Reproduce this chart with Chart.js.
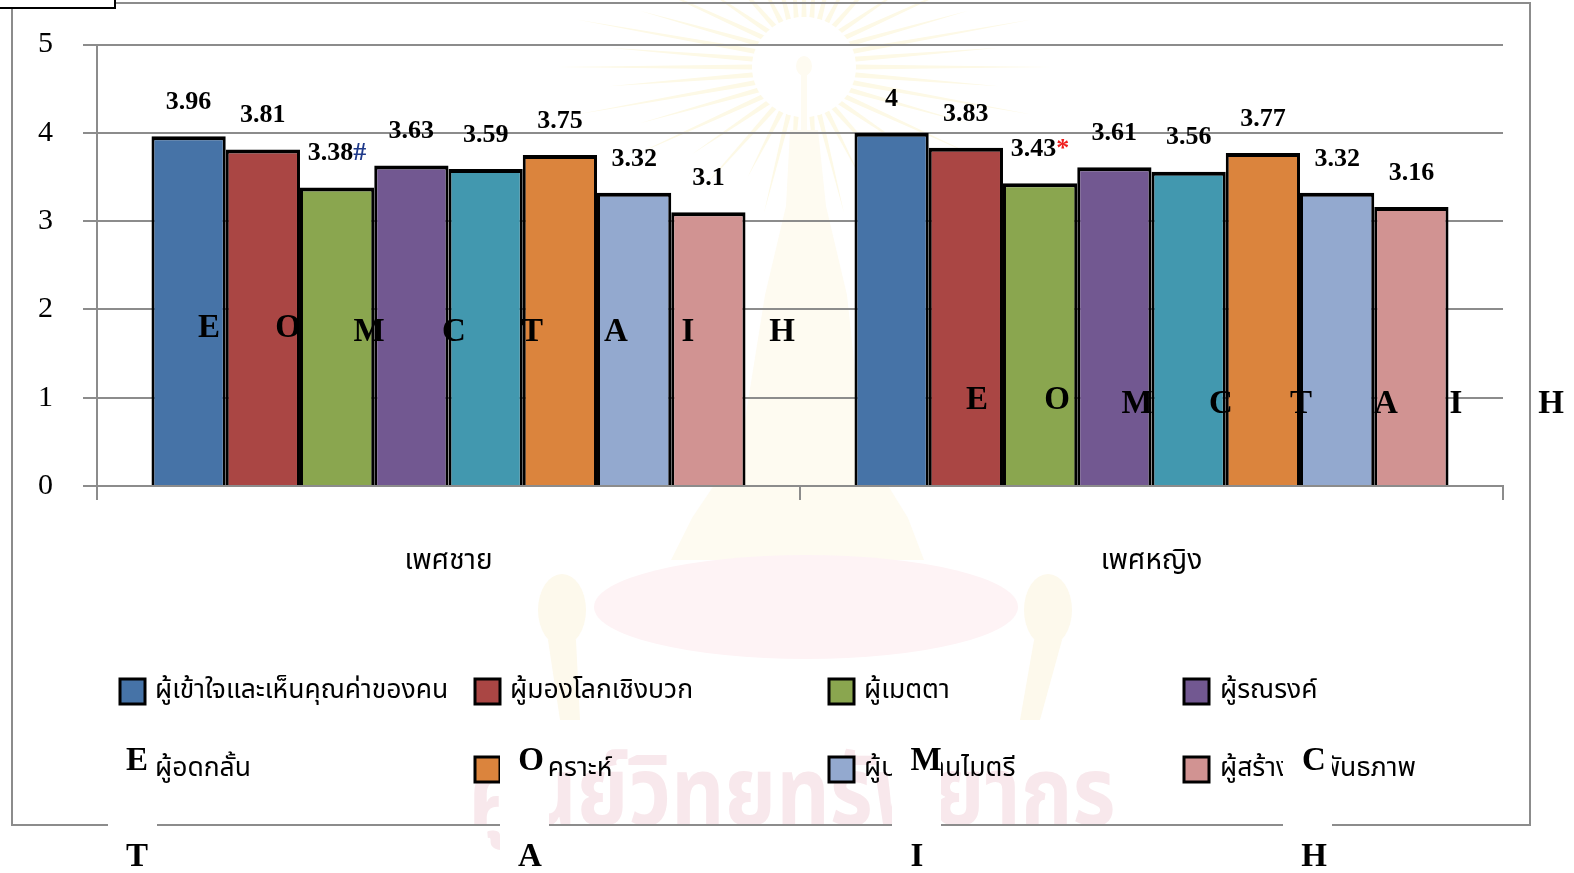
<!DOCTYPE html>
<html><head><meta charset="utf-8">
<style>html,body{margin:0;padding:0;background:#fff}#w{position:relative;width:1574px;height:873px;overflow:hidden}canvas{display:block}</style>
<script src="https://cdn.jsdelivr.net/npm/chart.js@4/dist/chart.umd.min.js"></script>
</head><body><div id="w"><canvas id="c" width="1574" height="873"></canvas></div>
<script>
const categories=["เพศชาย","เพศหญิง"];
const seriesNames=["ผู้เข้าใจและเห็นคุณค่าของคน","ผู้มองโลกเชิงบวก","ผู้เมตตา","ผู้รณรงค์","ผู้อดกลั้น","ผู้วิเคราะห์","ผู้ประสานไมตรี","ผู้สร้างสัมพันธภาพ"];
const seriesColors=["#4673A7","#AA4644","#8AA64F","#725891","#4298AF","#DB843D","#93A9CF","#D19392"];
const male=[3.96,3.81,3.38,3.63,3.59,3.75,3.32,3.1];
const female=[4,3.83,3.43,3.61,3.56,3.77,3.32,3.16];
const labelSuffix={"0-2":["#","#1f3a8a"],"1-2":["*","#f01c1c"]};
const yTicks=[0,1,2,3,4,5];
const serif='"Liberation Serif","Times New Roman",serif';
const thai='"Noto Sans Thai","Noto Sans","DejaVu Sans",sans-serif';

function emblem(c){
 const cx=804,cy=67;
 c.fillStyle='#fdf9e6';
 for(let a=0;a<360;a+=9){const r=a*Math.PI/180,R=(a%18===0?205:165);
  const sx=Math.abs(Math.cos(r))*1+0.45;
  c.beginPath();
  c.moveTo(cx+Math.cos(r-0.05)*50,cy+Math.sin(r-0.05)*50);
  c.lineTo(cx+Math.cos(r)*R*sx/1.2,cy+Math.sin(r)*R*0.75);
  c.lineTo(cx+Math.cos(r+0.05)*50,cy+Math.sin(r+0.05)*50);
  c.closePath();c.fill();}
 c.fillStyle='#fff';c.beginPath();c.ellipse(cx,cy,52,50,0,0,7);c.fill();
 c.fillStyle='#fefbf1';
 c.beginPath();c.ellipse(cx,66,8,10,0,0,7);c.fill();c.fillRect(cx-3,70,6,60);
 c.beginPath();
 c.moveTo(790,130);c.lineTo(818,130);c.lineTo(826,206);c.lineTo(847,295);c.lineTo(863,445);c.lineTo(908,518);c.lineTo(924,560);
 c.lineTo(671,560);c.lineTo(692,518);c.lineTo(741,445);c.lineTo(765,295);c.lineTo(786,206);c.closePath();c.fill();
 c.fillStyle='#fef3f5';c.beginPath();c.ellipse(806,607,212,52,0,0,7);c.fill();
 c.fillStyle='#fdf9ec';
 [[562,610],[1048,610]].forEach(p=>{c.beginPath();c.ellipse(p[0],p[1],24,36,0,0,7);c.fill();c.beginPath();c.moveTo(p[0]-14,640);c.lineTo(p[0]+14,640);c.lineTo(p[0]+(p[0]<800?18:-8),720);c.lineTo(p[0]+(p[0]<800?-2:-28),720);c.closePath();c.fill();});
}
const frame={id:'frame',beforeDraw(ch){const c=ch.ctx;c.save();
 c.fillStyle='#fff';c.fillRect(0,0,1574,873);
 emblem(c);
 c.save();c.translate(792,806);c.scale(1,1.15);
 c.font='bold 83px '+thai;c.fillStyle='#f8e8ec';c.textAlign='center';c.textBaseline='middle';
 c.fillText('ศูนย์วิทยทรัพยากร',0,0);c.restore();
 c.strokeStyle='#8c8c8c';c.lineWidth=2;c.strokeRect(12,3,1518,822);
 c.restore();}};
const overlay={id:'overlay',afterDraw(ch){const c=ch.ctx;c.save();
 c.textBaseline='middle';c.textAlign='center';
 [male,female].forEach((vals,g)=>{vals.forEach((v,s)=>{
  const el=ch.getDatasetMeta(s).data[g];const t=String(v);const suf=labelSuffix[g+'-'+s];
  c.font='bold 26px '+serif;
  const w=c.measureText(t).width,sw=suf?c.measureText(suf[0]).width:0;
  const x0=el.x-(w+sw)/2,y=el.y-34;
  c.textAlign='left';c.fillStyle='#000';c.fillText(t,x0,y);
  if(suf){c.fillStyle=suf[1];c.fillText(suf[0],x0+w,y);}
 });});
 c.textAlign='left';
 const cols=[120,475,829,1184],rows=[679,757],tx=[155,510,864,1220];
 seriesNames.forEach((n,i)=>{const col=i%4,row=i<4?0:1;
  c.fillStyle=seriesColors[i];c.strokeStyle='#000';c.lineWidth=3;
  c.fillRect(cols[col],rows[row],25,25);c.strokeRect(cols[col],rows[row],25,25);
  c.fillStyle='#000';c.font='26.5px '+thai;c.fillText(n,tx[col],rows[row]+14);
 });
 c.fillStyle='#fff';[108,500,892,1283].forEach(x=>c.fillRect(x,745,49,128));
 c.fillRect(0,0,115,8);c.strokeStyle='#000';c.lineWidth=2;c.beginPath();c.moveTo(0,8);c.lineTo(115,8);c.lineTo(115,0);c.stroke();
 c.fillStyle='#000';c.font='bold 33px '+serif;c.textAlign='center';
 const L=['E','O','M','C','T','A','I','H'];
 [[209,328],[288,328],[369,332],[454,332],[532,332],[616,332],[688,332],[782,332],
  [977,400],[1057,400],[1137,404],[1221,404],[1301,404],[1386,404],[1456,404],[1551,404]].forEach((p,i)=>c.fillText(L[i%8],p[0],p[1]));
 [[137,761],[531,761],[926,761],[1314,761],[137,857],[530,857],[917,857],[1314,857]].forEach((p,i)=>c.fillText(L[i],p[0],p[1]));
 c.restore();}};

new Chart(document.getElementById('c'),{type:'bar',
 data:{labels:categories,datasets:seriesNames.map((n,i)=>({label:n,data:[male[i],female[i]],backgroundColor:seriesColors[i],borderColor:'#000',borderWidth:{top:4,left:3,right:3,bottom:0},borderSkipped:false,inflateAmount:0}))},
 options:{responsive:false,animation:false,devicePixelRatio:1,
  layout:{padding:{top:44.5,left:0,right:71,bottom:0}},
  plugins:{legend:{display:false},tooltip:{enabled:false}},
  datasets:{bar:{categoryPercentage:0.845,barPercentage:1}},
  scales:{
   x:{grid:{color:'#8c8c8c',lineWidth:2,tickLength:14,drawOnChartArea:false,offset:true},border:{color:'#8c8c8c',width:2},
      ticks:{color:'#000',font:{family:thai,size:28},padding:47,maxRotation:0},afterFit(s){s.height=387;s.paddingLeft=0;s.paddingRight=0;}},
   y:{min:0,max:5,afterBuildTicks(s){s.ticks=yTicks.map(v=>({value:v}));},
      grid:{color:'#8c8c8c',lineWidth:2,tickLength:14},border:{color:'#8c8c8c',width:2},
      ticks:{color:'#000',font:{family:serif,size:30},padding:30},afterFit(s){s.width=97;s.paddingTop=0;s.paddingBottom=0;}}
  }},
 plugins:[frame,overlay]});
</script></body></html>
